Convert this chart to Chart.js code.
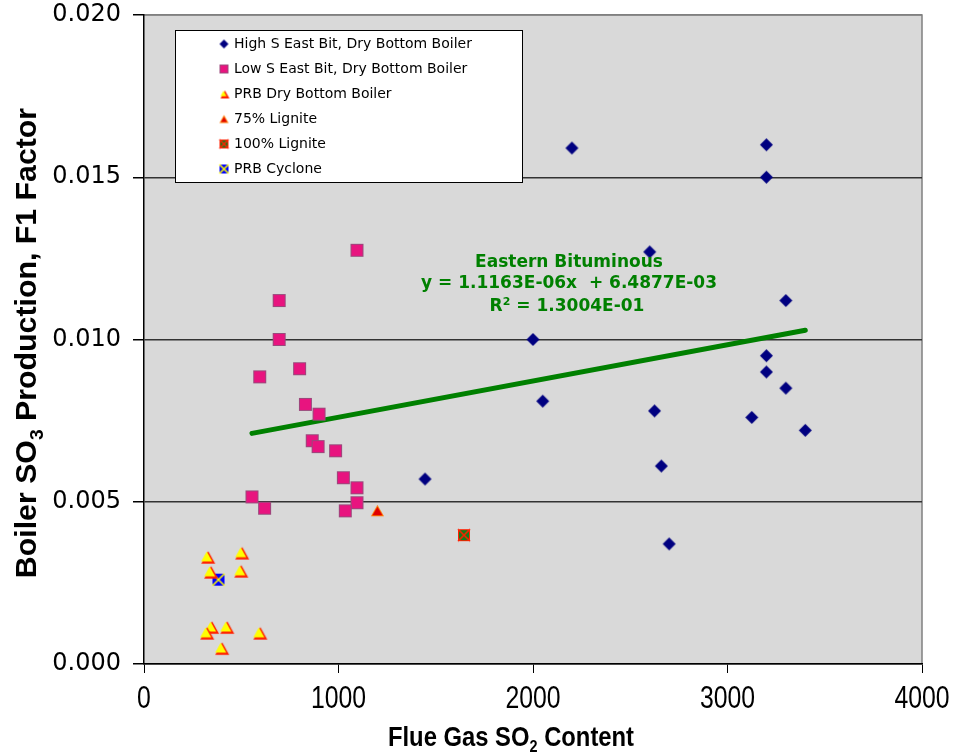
<!DOCTYPE html>
<html>
<head>
<meta charset="utf-8">
<script src="https://cdn.jsdelivr.net/npm/chart.js@4.4.0/dist/chart.umd.min.js"></script>
<style>
  body { margin: 0; background: #fff; }
  canvas { display: block; }
</style>
</head>
<body>
<canvas id="grafico" width="956" height="752"></canvas>
<script>
// series data
const highSX = [2200, 3200, 3200, 2600, 3300, 2000, 3200, 3200, 2050, 2625, 3125, 3300, 3400, 2660, 1445, 2700];
const highSY = [0.0159, 0.0160, 0.0150, 0.0127, 0.0112, 0.0100, 0.0095, 0.0090, 0.0081, 0.0078, 0.0076, 0.0085, 0.0072, 0.0061, 0.0057, 0.0037];

const lowSX = [1095, 695, 695, 595, 800, 830, 900, 865, 895, 985, 1025, 1095, 1095, 1035, 555, 620];
const lowSY = [0.01275, 0.0112, 0.0100, 0.00885, 0.0091, 0.0080, 0.0077, 0.00688, 0.0067, 0.00657, 0.00574, 0.00543, 0.00497, 0.00472, 0.00515, 0.0048];

const prbX = [325, 500, 340, 495, 345, 423, 320, 593, 397];
const prbY = [0.0033, 0.00343, 0.00284, 0.00287, 0.00114, 0.00114, 0.00096, 0.00096, 0.00049];

const lig75X = [1200];
const lig75Y = [0.00473];
const lig100X = [1645];
const lig100Y = [0.00397];
const cycloneX = [383];
const cycloneY = [0.0026];

// Eastern bituminous trend line end points
const trendX = [555, 3400];
const trendY = [0.007107, 0.010283];

const xTicks = [0, 1000, 2000, 3000, 4000];
const yTicks = [0, 0.005, 0.010, 0.015, 0.020];

const labels = [
    'High S East Bit, Dry Bottom Boiler',
    'Low S East Bit, Dry Bottom Boiler',
    'PRB Dry Bottom Boiler',
    '75% Lignite',
    '100% Lignite',
    'PRB Cyclone'
];

const sans = '"Liberation Sans", Arial, sans-serif';
const verd = '"DejaVu Sans", Verdana, sans-serif';

function pares(xs, ys) {
    return xs.map((x, i) => ({ x: x, y: ys[i] }));
}

function tri(ctx, cx, cy, w, h) {
    ctx.beginPath();
    ctx.moveTo(cx, cy - h / 2);
    ctx.lineTo(cx + w / 2, cy + h / 2);
    ctx.lineTo(cx - w / 2, cy + h / 2);
    ctx.closePath();
}

function marcador(tipo, s) {
    const c = document.createElement('canvas');
    c.width = s + 4;
    c.height = s + 4;
    const ctx = c.getContext('2d');
    const m = (s + 4) / 2;
    if (tipo === 'diamond') {
        ctx.fillStyle = '#000080';
        ctx.beginPath();
        ctx.moveTo(m, m - s / 2);
        ctx.lineTo(m + s / 2, m);
        ctx.lineTo(m, m + s / 2);
        ctx.lineTo(m - s / 2, m);
        ctx.closePath();
        ctx.fill();
    } else if (tipo === 'square') {
        ctx.fillStyle = '#e8147f';
        ctx.fillRect(m - s / 2, m - s / 2, s, s);
        ctx.strokeStyle = '#9a4a7c';
        ctx.lineWidth = 1;
        ctx.strokeRect(m - s / 2 + 0.5, m - s / 2 + 0.5, s - 1, s - 1);
    } else if (tipo === 'triYellow') {
        ctx.fillStyle = '#ff2000';
        tri(ctx, m + 1, m + 0.5, s, s * 0.9);
        ctx.fill();
        ctx.fillStyle = '#ffff00';
        tri(ctx, m - 0.5, m - 0.5, s - 3, s * 0.9 - 2.5);
        ctx.fill();
    } else if (tipo === 'triRed') {
        ctx.fillStyle = '#ff7a00';
        tri(ctx, m, m, s, s * 0.9);
        ctx.fill();
        ctx.fillStyle = '#e00000';
        tri(ctx, m, m + 0.5, s - 3, s * 0.9 - 3);
        ctx.fill();
    } else if (tipo === 'xGreen' || tipo === 'xBlue') {
        ctx.fillStyle = tipo === 'xGreen' ? '#1a7a1a' : '#0000ff';
        ctx.fillRect(m - s / 2, m - s / 2, s, s);
        ctx.strokeStyle = tipo === 'xGreen' ? '#ff2000' : '#ffff00';
        ctx.lineWidth = 1.6;
        ctx.beginPath();
        ctx.moveTo(m - s / 2, m - s / 2);
        ctx.lineTo(m + s / 2, m + s / 2);
        ctx.moveTo(m + s / 2, m - s / 2);
        ctx.lineTo(m - s / 2, m + s / 2);
        ctx.stroke();
        if (tipo === 'xGreen') {
            ctx.lineWidth = 1;
            ctx.strokeRect(m - s / 2 + 0.5, m - s / 2 + 0.5, s - 1, s - 1);
        }
    }
    return c;
}

const estilos = ['diamond', 'square', 'triYellow', 'triRed', 'xGreen', 'xBlue'];
const tamanhos = [13, 13, 14, 13, 12, 12];
const pontos = estilos.map((e, i) => marcador(e, tamanhos[i]));
const pontosLegenda = estilos.map(e => marcador(e, 9));

// background and grey frame of the plot area
const fundo = {
    id: 'fundo',
    beforeDraw(chart) {
        const a = chart.chartArea;
        const ctx = chart.ctx;
        ctx.save();
        ctx.fillStyle = '#d9d9d9';
        ctx.fillRect(a.left, a.top, a.right - a.left, a.bottom - a.top);
        ctx.strokeStyle = '#808080';
        ctx.lineWidth = 1.5;
        ctx.beginPath();
        ctx.moveTo(a.left, a.top);
        ctx.lineTo(a.right, a.top);
        ctx.lineTo(a.right, a.bottom);
        ctx.stroke();
        ctx.restore();
    }
};

// centred text with sub/superscripts, optionally squeezed horizontally
function textoSub(ctx, partes, x, y, tam, peso, familia, escalaX) {
    const fonte = p => peso + ' ' + (p.sub || p.sup ? Math.round(tam * 0.62) : tam) + 'px ' + familia;
    let total = 0;
    partes.forEach(p => {
        ctx.font = fonte(p);
        total += ctx.measureText(p.t).width;
    });
    ctx.save();
    ctx.translate(x, y);
    ctx.scale(escalaX, 1);
    ctx.textAlign = 'left';
    ctx.textBaseline = 'alphabetic';
    let cx = -total / 2;
    partes.forEach(p => {
        ctx.font = fonte(p);
        let dy = 0;
        if (p.sub) dy = tam * 0.22;
        if (p.sup) dy = -tam * 0.35;
        ctx.fillText(p.t, cx, dy);
        cx += ctx.measureText(p.t).width;
    });
    ctx.restore();
}

const extras = {
    id: 'extras',
    afterDraw(chart) {
        const ctx = chart.ctx;
        const xs = chart.scales.x;
        ctx.save();
        // legend box
        ctx.fillStyle = '#fff';
        ctx.fillRect(175, 30, 347, 152);
        ctx.strokeStyle = '#000';
        ctx.lineWidth = 1;
        ctx.strokeRect(175.5, 30.5, 347, 152);
        ctx.font = '14px ' + verd;
        ctx.textBaseline = 'middle';
        ctx.textAlign = 'left';
        labels.forEach((l, i) => {
            const y = 44 + i * 25;
            const img = pontosLegenda[i];
            ctx.drawImage(img, 224 - img.width / 2, y - img.height / 2);
            ctx.fillStyle = '#000';
            ctx.fillText(l, 234, y);
        });

        // trend line label
        ctx.fillStyle = '#008000';
        ctx.textAlign = 'center';
        ctx.font = 'bold 17px ' + verd;
        ctx.fillText('Eastern Bituminous', 569, 263);
        ctx.fillText('y = 1.1163E-06x  + 6.4877E-03', 569, 284);
        textoSub(ctx, [{ t: 'R' }, { t: '2', sup: true }, { t: ' = 1.3004E-01' }], 567, 311, 17, 'bold', verd, 1);

        // x tick labels, condensed
        ctx.fillStyle = '#000';
        xTicks.forEach(v => {
            textoSub(ctx, [{ t: String(v) }], xs.getPixelForValue(v), 708, 31, 'normal', sans, 0.8);
        });

        // axis titles
        textoSub(ctx, [{ t: 'Flue Gas SO' }, { t: '2', sub: true }, { t: ' Content' }], 511, 746, 28, 'bold', sans, 0.85);
        ctx.translate(36, 343);
        ctx.rotate(-Math.PI / 2);
        textoSub(ctx, [{ t: 'Boiler SO' }, { t: '3', sub: true }, { t: ' Production, F1 Factor' }], 0, 0, 30, 'bold', sans, 1.01);
        ctx.restore();
    }
};

const grafico = new Chart(document.getElementById('grafico'), {
    type: 'scatter',
    data: {
        datasets: [
            { label: labels[0], data: pares(highSX, highSY), pointStyle: pontos[0] },
            { label: labels[1], data: pares(lowSX, lowSY), pointStyle: pontos[1] },
            { label: labels[2], data: pares(prbX, prbY), pointStyle: pontos[2] },
            { label: labels[3], data: pares(lig75X, lig75Y), pointStyle: pontos[3] },
            { label: labels[4], data: pares(lig100X, lig100Y), pointStyle: pontos[4] },
            { label: labels[5], data: pares(cycloneX, cycloneY), pointStyle: pontos[5] },
            {
                label: 'Eastern Bituminous',
                type: 'line',
                data: pares(trendX, trendY),
                borderColor: '#008000',
                borderWidth: 5,
                borderCapStyle: 'round',
                pointRadius: 0,
                order: 10
            }
        ]
    },
    options: {
        responsive: false,
        animation: false,
        layout: { padding: { top: 15, right: 34, left: 0, bottom: 0 } },
        plugins: {
            legend: { display: false },
            tooltip: { enabled: false }
        },
        scales: {
            x: {
                type: 'linear',
                min: 0,
                max: 4000,
                afterBuildTicks: s => { s.ticks = xTicks.map(v => ({ value: v })); },
                afterFit: s => {
                    s.height = 88;
                    s.paddingLeft = 0;
                    s.paddingRight = 0;
                },
                grid: { drawOnChartArea: false, drawTicks: true, tickLength: 9, color: '#000' },
                border: { color: '#000', width: 1.5 },
                ticks: { display: false }
            },
            y: {
                min: 0,
                max: 0.02,
                afterBuildTicks: s => { s.ticks = yTicks.map(v => ({ value: v })); },
                afterFit: s => {
                    s.width = 144;
                    s.paddingTop = 0;
                    s.paddingBottom = 0;
                },
                grid: {
                    color: ctx => ctx.tick && ctx.tick.value >= 0.02 ? '#808080' : '#333',
                    lineWidth: 1.5,
                    tickLength: 11,
                    tickColor: '#000'
                },
                border: { color: '#000', width: 1.5 },
                ticks: {
                    color: '#000',
                    padding: 12,
                    font: { family: verd, size: 24 },
                    callback: v => v.toFixed(3)
                }
            }
        }
    },
    plugins: [fundo, extras]
});
</script>
</body>
</html>
